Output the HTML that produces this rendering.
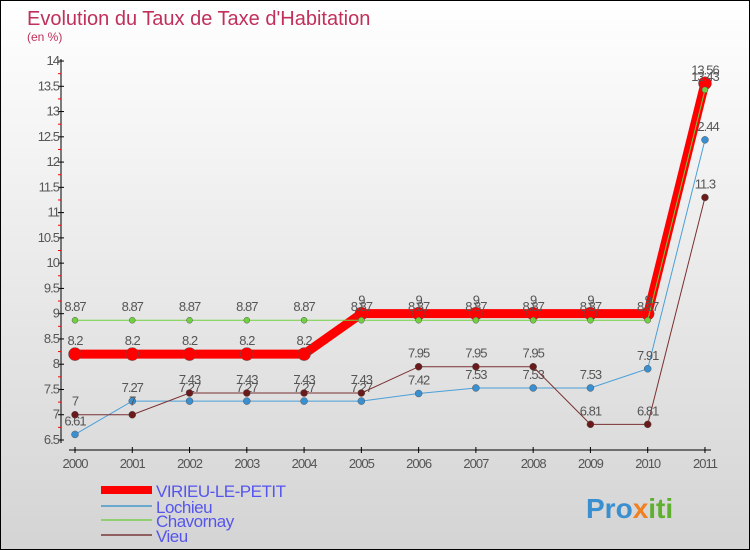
<!DOCTYPE html>
<html><head><meta charset="utf-8"><style>
body{margin:0}
#c{width:748px;height:548px;border:1px solid #000;background:linear-gradient(#fff,#d4d4d4);position:relative;font-family:"Liberation Sans",sans-serif;overflow:hidden}
</style></head><body>
<div id="c">
<svg id="s" width="748" height="548">
<text x="26" y="24" font-size="20" fill="#c0305a">Evolution du Taux de Taxe d'Habitation</text>
<text x="26" y="40" font-size="12" fill="#c0305a">(en %)</text>
<g id="g"></g>
<text x="585" y="517" font-size="28" font-weight="bold" fill="#3a8fd0">Pro<tspan fill="#f08020">x</tspan><tspan fill="#60b030">iti</tspan></text>
</svg></div>
<script>
const years=[2000,2001,2002,2003,2004,2005,2006,2007,2008,2009,2010,2011];
const yTicks=[6.5,7,7.5,8,8.5,9,9.5,10,10.5,11,11.5,12,12.5,13,13.5,14];
const virieu=[8.2,8.2,8.2,8.2,8.2,9,9,9,9,9,9,13.56];
const lochieu=[6.61,7.27,7.27,7.27,7.27,7.27,7.42,7.53,7.53,7.53,7.91,12.44];
const chavornay=[8.87,8.87,8.87,8.87,8.87,8.87,8.87,8.87,8.87,8.87,8.87,13.43];
const vieu=[7,7,7.43,7.43,7.43,7.43,7.95,7.95,7.95,6.81,6.81,11.3];
const X=i=>74+i*57.27, Y=v=>439-(v-6.5)*50.53;
const g=document.getElementById('g'),NS='http://www.w3.org/2000/svg';
function el(t,a,p){const e=document.createElementNS(NS,t);for(const k in a)e.setAttribute(k,a[k]);(p||g).appendChild(e);return e;}
let e=el('line',{x1:60,y1:58,x2:60,y2:442,stroke:'#000'});


e=el('line',{x1:68,y1:449,x2:710,y2:449,stroke:'#000'});


yTicks.forEach(v=>{el('line',{x1:57,x2:63,y1:Y(v),y2:Y(v),stroke:'#000'});
 if(v<14)el('line',{x1:57,x2:60,y1:Y(v+0.25),y2:Y(v+0.25),stroke:'red'});
 const t=el('text',{x:58,y:Y(v)+4,'text-anchor':'end','font-size':13,fill:'#555','letter-spacing':'-1'});t.textContent=v;
 
 });
years.forEach((y,i)=>{el('line',{x1:X(i),x2:X(i),y1:446,y2:452,stroke:'#000'});
 const t=el('text',{x:X(i),y:467,'text-anchor':'middle','font-size':13,fill:'#555','letter-spacing':'-1'});t.textContent=y;
 
 });
function series(d,col,w,r,dot,name){
 const p=el('polyline',{points:d.map((v,i)=>X(i)+','+Y(v)).join(' '),fill:'none',stroke:col,'stroke-width':w});
 
 
 d.forEach((v,i)=>{const c=el('circle',{cx:X(i),cy:Y(v),r:r,fill:dot,stroke:'#555','stroke-width':0.5});
  
  
  const t=el('text',{x:X(i),y:Y(v)-9,'text-anchor':'middle','font-size':13,fill:'#555','letter-spacing':'-1'});t.textContent=v;
  
  });
}
series(lochieu,'#4a9fd8',1,3.5,'#3a8fd0','lochieu');
series(vieu,'#7a3030',1,3.5,'#6a1a1a','vieu');
series(virieu,'#f00',9,6.5,'#f00','virieu');
series(chavornay,'#70d040',1,3,'#70d040','chavornay');
const leg=[['VIRIEU-LE-PETIT','#f00',8,493],['Lochieu','#6aa8d0',2,509],['Chavornay','#90d070',2,523],['Vieu','#906060',2,538]];
leg.forEach(l=>{el('line',{x1:100,x2:151,y1:l[3]-4,y2:l[3]-4,stroke:l[1],'stroke-width':l[2]});
 const t=el('text',{x:155,y:l[3]+3,'font-size':17,fill:'#5555ee','letter-spacing':'-0.5'});t.textContent=l[0];
 
 });
</script></body></html>
